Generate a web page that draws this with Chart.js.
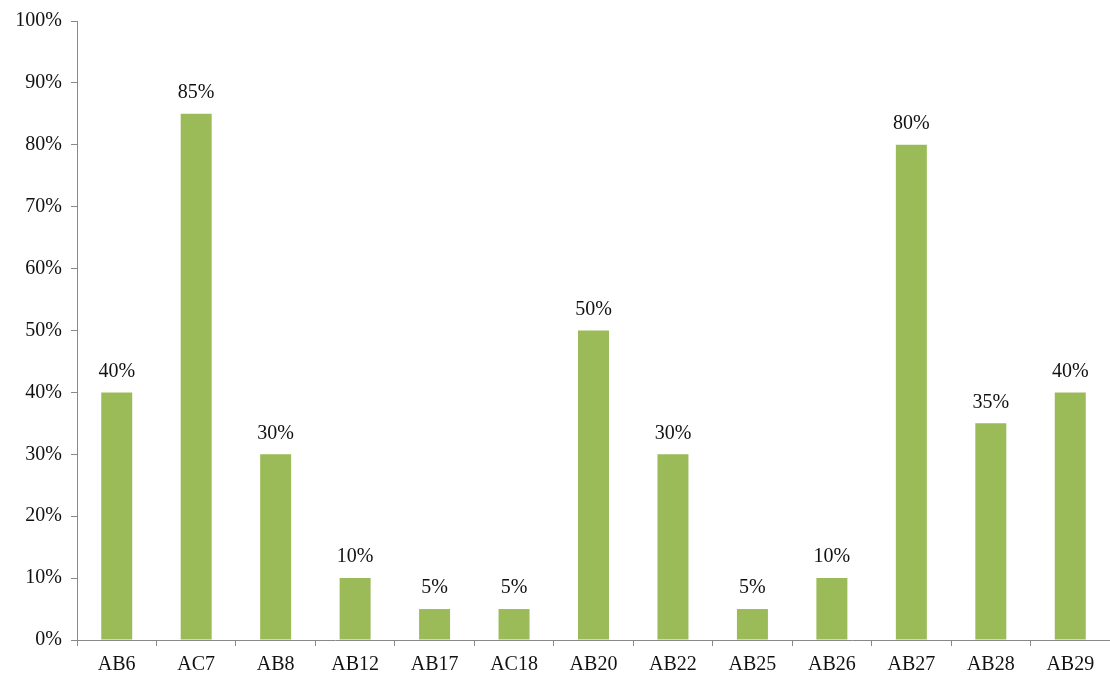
<!DOCTYPE html>
<html>
<head>
<meta charset="utf-8">
<script src="https://cdn.jsdelivr.net/npm/chart.js@4/dist/chart.umd.min.js"></script>
<style>
  html, body { margin: 0; padding: 0; background: #fff; }
  #wrap { width: 1110px; height: 675px; }
</style>
</head>
<body>
<div id="wrap"><canvas id="myChart" width="1110" height="675"></canvas></div>
<script>
const categories = ['AB6', 'AC7', 'AB8', 'AB12', 'AB17', 'AC18', 'AB20', 'AB22', 'AB25', 'AB26', 'AB27', 'AB28', 'AB29'];
const shares = [40, 85, 30, 10, 5, 5, 50, 30, 5, 10, 80, 35, 40];
const yTicks = [0, 10, 20, 30, 40, 50, 60, 70, 80, 90, 100];

const serif = '"Liberation Serif", "Times New Roman", serif';

// draws the % value above each bar
const valueLabels = {
  id: 'valueLabels',
  afterDatasetsDraw(chart) {
    const ctx = chart.ctx;
    const meta = chart.getDatasetMeta(0);
    ctx.save();
    ctx.font = '20px ' + serif;
    ctx.fillStyle = '#111';
    ctx.textAlign = 'center';
    ctx.textBaseline = 'middle';
    meta.data.forEach((bar, i) => {
      ctx.fillText(shares[i] + '%', bar.x, bar.y - 21);
    });
    ctx.restore();
  }
};

const ctx = document.getElementById('myChart').getContext('2d');
new Chart(ctx, {
  type: 'bar',
  data: {
    labels: categories,
    datasets: [{
      data: shares,
      backgroundColor: '#9BBB59',
      borderWidth: 0,
      categoryPercentage: 1,
      barPercentage: 0.39
    }]
  },
  options: {
    responsive: false,
    animation: false,
    layout: { padding: { top: 20, right: 0, left: 0, bottom: 0 } },
    plugins: {
      legend: { display: false },
      tooltip: { enabled: false }
    },
    scales: {
      x: {
        afterFit(axis) { axis.height = 35; },
        grid: {
          display: true,
          drawOnChartArea: false,
          offset: true,
          tickLength: 6,
          color: '#888'
        },
        border: { display: true, color: '#888', width: 1 },
        ticks: {
          color: '#111',
          padding: 7,
          font: { family: serif, size: 20 }
        }
      },
      y: {
        min: 0,
        max: 100,
        afterFit(axis) { axis.width = 77; },
        afterBuildTicks(axis) {
          axis.ticks = yTicks.map(v => ({ value: v }));
        },
        grid: {
          display: true,
          drawOnChartArea: false,
          tickLength: 6,
          color: '#888'
        },
        border: { display: true, color: '#888', width: 1 },
        ticks: {
          color: '#111',
          padding: 9,
          font: { family: serif, size: 20 },
          callback: v => v + '%'
        }
      }
    }
  },
  plugins: [valueLabels]
});
</script>
</body>
</html>
